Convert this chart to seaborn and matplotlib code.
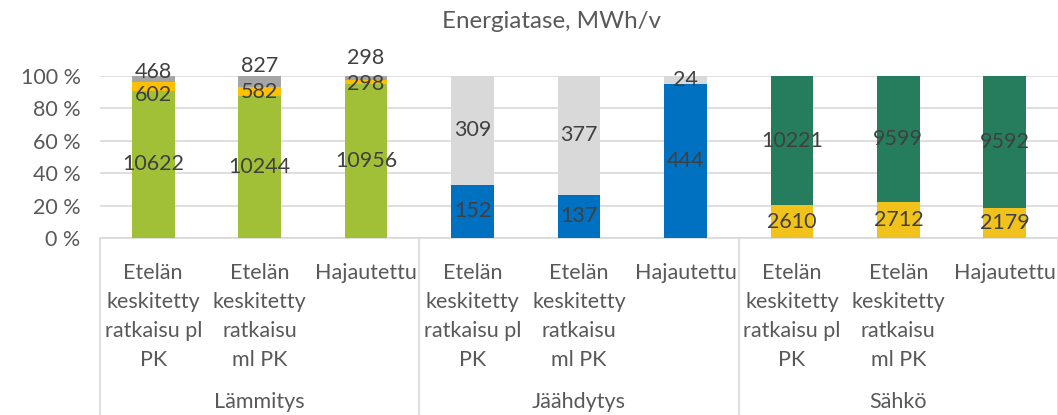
import numpy as np
import pandas as pd
import matplotlib
matplotlib.use("Agg")
import matplotlib.pyplot as plt
import matplotlib.transforms as mtransforms
import seaborn as sns

# ---------------- data ----------------
title = "Energiatase, MWh/v"
groups = ["Lämmitys", "Jäähdytys", "Sähkö"]
bar_labels = ["Etelän\nkeskitetty\nratkaisu pl\nPK",
              "Etelän\nkeskitetty\nratkaisu\nml PK",
              "Hajautettu"]

# segments from bottom to top for each group
lammitys_1 = [10622, 10244, 10956]
lammitys_2 = [602, 582, 298]
lammitys_3 = [468, 827, 298]
jaahdytys_1 = [152, 137, 444]
jaahdytys_2 = [309, 377, 24]
sahko_1 = [2610, 2712, 2179]
sahko_2 = [10221, 9599, 9592]

y_ticks = [0, 20, 40, 60, 80, 100]

# ---------------- styling ----------------
seg_colors = {
    ("Lämmitys", 1): "#A2C037",
    ("Lämmitys", 2): "#FFC000",
    ("Lämmitys", 3): "#A5A5A5",
    ("Jäähdytys", 1): "#0070C0",
    ("Jäähdytys", 2): "#D9D9D9",
    ("Sähkö", 1): "#F1C21B",
    ("Sähkö", 2): "#267D5E",
}
# label nudges (in % units) for crowded small segments
label_nudge = {
    ("Lämmitys", 2, 0): -5.0, ("Lämmitys", 3, 0): 4.5,
    ("Lämmitys", 2, 1): -0.5, ("Lämmitys", 3, 1): 9.5,
    ("Lämmitys", 2, 2): -1.0, ("Lämmitys", 3, 2): 12.5,
}

segments = {
    "Lämmitys": [lammitys_1, lammitys_2, lammitys_3],
    "Jäähdytys": [jaahdytys_1, jaahdytys_2],
    "Sähkö": [sahko_1, sahko_2],
}

rows = []
for g in groups:
    segs = segments[g]
    totals = np.sum(np.array(segs, dtype=float), axis=0)
    cum = np.zeros(len(bar_labels))
    for lvl, vals in enumerate(segs, start=1):
        for i, v in enumerate(vals):
            pct = 100.0 * v / totals[i]
            rows.append(dict(group=g, level=lvl, idx=i, bar_id=f"{g}|{i}",
                             value=v, pct=pct, bottom=cum[i], top=cum[i] + pct))
        cum = cum + 100.0 * np.array(vals) / totals
df = pd.DataFrame(rows)
order = [f"{g}|{i}" for g in groups for i in range(len(bar_labels))]

sns.set_theme(style="white")
plt.rcParams["font.family"] = ["Lato", "DejaVu Sans"]

FS = 15.5
W, H = 1058, 415
fig = plt.figure(figsize=(W / 100, H / 100), dpi=100)
ax_left, ax_right, ax_top, ax_bottom = 100, 1058, 76, 238
ax = fig.add_axes([ax_left / W, 1 - ax_bottom / H,
                   (ax_right - ax_left) / W, (ax_bottom - ax_top) / H])

grid_c = "#D9D9D9"
for t in y_ticks:
    ax.axhline(t, color=grid_c, lw=1.2, zorder=0)

# draw cumulative tops, highest level first so lower segments overdraw
for (g, lvl), sub in sorted(df.groupby(["group", "level"]), key=lambda kv: -kv[0][1]):
    sns.barplot(data=sub, x="bar_id", y="top", order=order,
                color=seg_colors[(g, lvl)], width=0.4, saturation=1,
                ax=ax, zorder=2, linewidth=0)

pos = {b: k for k, b in enumerate(order)}
for _, r in df.iterrows():
    y = r["bottom"] + r["pct"] / 2 + label_nudge.get((r["group"], int(r["level"]), int(r["idx"])), 0.0)
    ax.text(pos[r["bar_id"]], y, f"{int(r['value'])}", ha="center", va="center",
            fontsize=FS, color="#404040", zorder=5)

ax.set_xlim(-0.5, len(order) - 0.5)
ax.set_ylim(0, 100)
ax.set_xlabel("")
ax.set_ylabel("")
ax.set_yticks(y_ticks)
ax.set_yticklabels([f"{t} %" for t in y_ticks], fontsize=FS, color="#595959")
ax.tick_params(axis="y", length=0, pad=14)
ax.set_xticks([])
for s in ax.spines.values():
    s.set_visible(False)

trans = mtransforms.blended_transform_factory(ax.transData, ax.transAxes)
ax_h = ax_bottom - ax_top
y_fig_bottom = -(H - ax_bottom) / ax_h
# category axis box lines
ax.plot([-0.5, len(order) - 0.5], [0, 0], transform=trans, color=grid_c, lw=1.2,
        clip_on=False, zorder=1)
for k in range(len(groups) + 1):
    xb = -0.5 + k * len(bar_labels)
    ax.plot([xb, xb], [0, y_fig_bottom], transform=trans, color=grid_c, lw=1.2,
            clip_on=False, zorder=1)

for gi, g in enumerate(groups):
    for i, lab in enumerate(bar_labels):
        ax.text(gi * len(bar_labels) + i, -25 / ax_h, lab, transform=trans,
                ha="center", va="top", fontsize=FS, color="#595959",
                linespacing=1.56, multialignment="center")
    ax.text(gi * len(bar_labels) + (len(bar_labels) - 1) / 2, -(408 - ax_bottom) / ax_h, g,
            transform=trans, ha="center", va="baseline", fontsize=FS, color="#595959")

fig.text(551 / W, 1 - 28 / H, title, ha="center", va="baseline",
         fontsize=17.4, color="#595959")

fig.savefig("out.png", dpi=100)
